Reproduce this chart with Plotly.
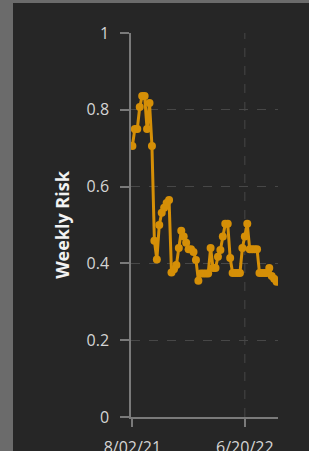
import pandas as pd
import plotly.graph_objects as go

start_date = "2021-08-02"
risk = [0.706, 0.75, 0.75, 0.807, 0.836, 0.836, 0.75, 0.818, 0.706, 0.459,
        0.41, 0.5, 0.532, 0.545, 0.557, 0.565, 0.376, 0.385, 0.396, 0.44,
        0.485, 0.47, 0.454, 0.437, 0.437, 0.43, 0.409, 0.355, 0.374, 0.374,
        0.374, 0.374, 0.44, 0.388, 0.388, 0.417, 0.435, 0.47, 0.503, 0.503,
        0.414, 0.375, 0.375, 0.375, 0.375, 0.44, 0.47, 0.503, 0.437, 0.437,
        0.437, 0.437, 0.375, 0.375, 0.375, 0.375, 0.388, 0.367, 0.36, 0.352]
dates = pd.date_range(start_date, periods=len(risk), freq="7D")

x_tickvals = ["2021-08-02", "2022-06-20"]
x_ticktext = ["8/02/21", "6/20/22"]
y_tickvals = [0, 0.2, 0.4, 0.6, 0.8, 1]
y_ticktext = ["0", "0.2", "0.4", "0.6", "0.8", "1"]

BG = "#262626"
GOLD = "#d58f07"
AXIS = "#7a7a7a"
GRID = "#474747"
TXT = "#d4d4d4"

fig = go.Figure()
fig.add_trace(go.Scatter(
    x=dates, y=risk, mode="lines+markers",
    line=dict(color=GOLD, width=3),
    marker=dict(color=GOLD, size=8),
    hoverinfo="skip",
))

fig.update_layout(
    width=309, height=451,
    margin=dict(l=131, r=31, t=33, b=34, autoexpand=False),
    paper_bgcolor="#6b6b6b",
    plot_bgcolor=BG,
    showlegend=False,
    font=dict(family="Open Sans", size=15, color=TXT),
    shapes=[
        dict(type="rect", xref="paper", yref="paper",
             x0=(13 - 131) / 147, x1=(309 - 131) / 147,
             y0=(417 - 460) / 384, y1=(417 - 3) / 384,
             fillcolor=BG, line=dict(width=0), layer="below"),
        dict(type="line", xref="x", yref="paper",
             x0=x_tickvals[1], x1=x_tickvals[1], y0=0, y1=1,
             line=dict(color=GRID, width=1, dash="dash"), layer="below"),
    ],
)

fig.update_xaxes(
    type="date", automargin=False,
    range=["2021-07-29", "2022-09-23"],
    tickvals=x_tickvals, ticktext=x_ticktext,
    showgrid=False, zeroline=False,
    showline=True, linecolor=AXIS, linewidth=1.5,
    ticks="outside", ticklen=8, tickcolor=AXIS, tickwidth=1.5,
    ticklabelstandoff=7,
    tickfont=dict(size=16, color=TXT),
)
fig.update_yaxes(
    range=[0, 1], automargin=False,
    tickvals=y_tickvals, ticktext=y_ticktext,
    showgrid=True, gridcolor=GRID, griddash="dash", gridwidth=1,
    zeroline=False,
    showline=True, linecolor=AXIS, linewidth=1.5,
    ticks="outside", ticklen=9, tickcolor=AXIS, tickwidth=1.5,
    ticklabelstandoff=8,
    tickfont=dict(size=16, color=TXT),
    title=dict(text="<b>Weekly Risk</b>", font=dict(size=18, color="#f2f2f2"), standoff=12),
)

fig.write_html("out.html", config={"displayModeBar": False},
               post_script="document.body.style.margin='0';document.body.style.overflow='hidden';")
